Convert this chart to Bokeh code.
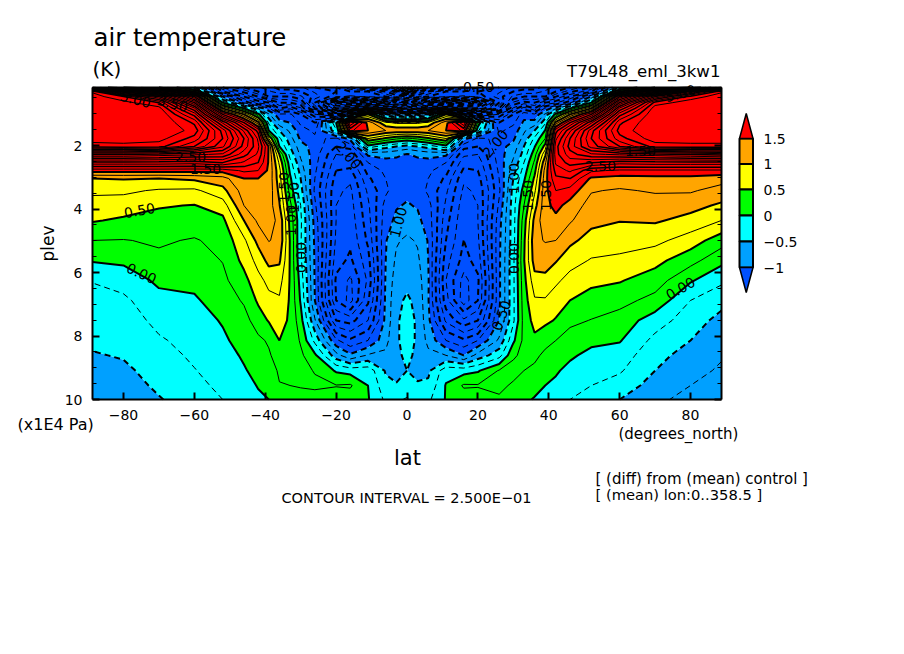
import numpy as np
from bokeh.embed import file_html
from bokeh.resources import INLINE
from bokeh.plotting import figure
from bokeh.models import Label, PolyAnnotation, LinearAxis, Range1d, FixedTicker

lat = [-88.75,-80,-70,-60,-52,-46,-42,-39,-36,-33,-30,-26,-20,-16,-11,-6,-3,0,3,6,11,16,20,26,30,33,36,39,42,46,52,60,70,80,88.75]
plev = [0.17,0.30,0.46,0.65,0.83,1.02,1.28,1.53,1.78,2.03,2.28,2.54,2.79,3.04,3.42,3.89,4.36,4.99,5.62,6.25,6.88,7.51,8.14,8.61,9.09,9.56,10.0]

t_s88 = [2.0,5.2,5.4,5.5,5.5,5.5,5.5,5.5,5.4,5.1,3.5,2.4,1.6,1.0,0.8,0.65,0.52,0.25,0.02,-0.24,-0.32,-0.38,-0.45,-0.52,-0.6,-0.66,-0.72]
t_s80 = [1.0,3.2,5.0,5.35,5.5,5.5,5.5,5.5,5.4,5.15,3.5,2.4,1.6,1.02,0.8,0.62,0.46,0.24,0.05,-0.15,-0.3,-0.38,-0.44,-0.48,-0.55,-0.62,-0.68]
t_s70 = [0.5,2.0,4.0,5.0,5.35,5.5,5.5,5.5,5.35,5.1,3.4,2.4,1.6,1.0,0.72,0.52,0.42,0.28,0.2,0.05,-0.08,-0.18,-0.28,-0.34,-0.4,-0.45,-0.52]
t_s60 = [-0.5,0.5,2.0,3.0,3.8,4.4,4.95,5.15,4.9,4.5,3.3,2.35,1.6,1.05,0.7,0.49,0.38,0.23,0.14,0.06,-0.03,-0.1,-0.16,-0.21,-0.26,-0.31,-0.36]
t_s52 = [-2.5,-2.0,-1.0,0.0,1.0,2.0,3.2,3.9,4.0,3.8,3.2,2.5,1.6,1.15,0.92,0.62,0.44,0.32,0.26,0.19,0.11,0.02,-0.04,-0.09,-0.15,-0.2,-0.25]
t_s46 = [-3.0,-2.6,-2.0,-1.3,0.0,1.0,2.0,2.7,3.0,2.9,2.6,2.2,1.8,1.5,1.37,1.25,1.0,0.7,0.57,0.42,0.28,0.16,0.09,0.03,-0.02,-0.06,-0.1]
t_s42 = [-3.2,-3.0,-2.5,-1.8,-0.8,0.1,1.1,1.9,2.2,2.3,2.2,2.0,1.75,1.5,1.45,1.38,1.3,1.08,0.84,0.67,0.54,0.37,0.2,0.13,0.07,0.01,-0.03]
t_s39 = [-3.4,-3.2,-3.0,-2.0,-1.2,-0.7,-0.3,0.0,0.75,1.48,1.47,1.47,1.45,1.43,1.42,1.38,1.33,1.26,1.08,0.82,0.68,0.52,0.28,0.22,0.15,0.07,0.0]
t_s36 = [-3.6,-3.4,-3.0,-2.5,-2.0,-1.2,-0.9,-0.5,-0.2,0.0,0.5,0.7,0.82,0.85,0.93,1.02,1.2,1.2,1.04,0.84,0.72,0.6,0.5,0.36,0.28,0.24,0.18]
t_s33 = [-3.6,-3.4,-3.0,-2.5,-1.8,-1.2,-1.0,-0.8,-0.65,-0.5,-0.35,-0.15,-0.05,0.05,0.15,0.32,0.42,0.48,0.48,0.48,0.47,0.46,0.44,0.4,0.33,0.25,0.2]
t_s30 = [-3.7,-3.5,-3.2,-2.7,-2.2,-1.5,-1.3,-1.15,-1.05,-0.9,-0.8,-0.7,-0.6,-0.5,-0.4,-0.25,-0.2,-0.22,-0.2,-0.1,-0.03,0.1,0.22,0.3,0.3,0.26,0.2]
t_s26 = [-4.0,-3.8,-3.6,-4.0,-3.5,-2.2,-1.5,-1.3,-1.2,-1.1,-1.12,-1.15,-1.2,-1.25,-1.3,-1.2,-1.1,-1.05,-1.03,-1.02,-1.0,-0.72,-0.32,0.05,0.24,0.28,0.18]
t_s20 = [-4.0,-4.0,-4.2,-6.0,-5.0,-3.0,0.0,-0.3,-1.3,-1.5,-1.75,-1.9,-2.0,-2.1,-2.2,-2.25,-2.25,-2.3,-2.4,-2.55,-2.5,-2.0,-1.2,-0.65,-0.03,0.26,0.15]
t_s16 = [-3.5,-4.0,-4.3,-6.5,-5.0,-1.5,2.5,1.8,-0.9,-1.4,-1.7,-1.9,-2.05,-2.2,-2.3,-2.35,-2.4,-2.45,-2.55,-2.8,-2.85,-2.1,-1.45,-0.95,-0.1,0.28,0.12]
t_s11 = [-3.0,-4.0,-4.2,-6.5,-4.5,0.5,1.4,1.5,0.75,-0.1,-0.95,-1.25,-1.4,-1.55,-1.7,-1.8,-1.85,-1.95,-2.1,-2.2,-2.05,-1.75,-1.25,-0.72,-0.1,0.0,0.02]
t_s06 = [-2.5,-3.5,-4.0,-6.0,-4.5,-0.8,0.8,1.25,0.45,-0.4,-0.9,-1.1,-1.2,-1.25,-1.3,-1.15,-1.1,-1.02,-1.0,-0.97,-0.95,-0.93,-0.83,-0.7,-0.53,-0.42,-0.3]
t_s03 = [-1.5,-3.0,-3.7,-5.5,-4.0,-1.0,0.7,1.2,0.3,-0.5,-0.95,-1.08,-1.15,-1.18,-1.12,-1.02,-0.95,-0.78,-0.7,-0.62,-0.55,-0.53,-0.53,-0.55,-0.58,-0.48,-0.3]
t_eq0 = [0.5,-1.5,-3.5,-5.0,-3.5,-1.0,0.7,1.2,0.2,-0.6,-1.02,-1.05,-1.1,-1.1,-1.05,-0.98,-0.88,-0.7,-0.62,-0.55,-0.47,-0.42,-0.42,-0.45,-0.5,-0.42,-0.22]
t_n03 = [-1.5,-3.0,-3.7,-5.5,-4.0,-1.0,0.7,1.2,0.3,-0.5,-0.95,-1.08,-1.15,-1.18,-1.12,-1.02,-0.95,-0.78,-0.7,-0.62,-0.55,-0.53,-0.53,-0.55,-0.55,-0.48,-0.3]
t_n06 = [-2.5,-3.5,-4.0,-6.0,-4.5,-0.8,0.8,1.25,0.45,-0.4,-0.9,-1.1,-1.2,-1.25,-1.3,-1.15,-1.1,-1.02,-1.0,-0.97,-0.98,-0.93,-0.83,-0.68,-0.55,-0.45,-0.3]
t_n11 = [-3.0,-4.0,-4.2,-6.5,-4.5,0.5,1.4,1.5,0.75,-0.1,-0.95,-1.25,-1.4,-1.55,-1.7,-1.8,-1.9,-2.0,-2.15,-2.25,-2.15,-1.8,-1.25,-0.75,-0.1,0.02,0.02]
t_n16 = [-3.5,-4.0,-4.3,-6.5,-5.0,-1.5,2.5,1.8,-0.9,-1.4,-1.7,-1.9,-2.05,-2.2,-2.3,-2.4,-2.45,-2.5,-2.6,-2.85,-2.9,-2.2,-1.45,-1.0,-0.1,0.28,0.12]
t_n20 = [-4.0,-4.0,-4.2,-6.0,-5.0,-3.0,0.2,-0.2,-1.3,-1.5,-1.75,-1.9,-2.0,-2.1,-2.2,-2.25,-2.25,-2.3,-2.4,-2.55,-2.5,-2.0,-1.25,-0.65,-0.03,0.27,0.12]
t_n26 = [-4.0,-3.8,-3.6,-4.0,-3.5,-2.2,-1.5,-1.3,-1.2,-1.1,-1.12,-1.15,-1.2,-1.25,-1.3,-1.2,-1.1,-1.06,-1.05,-1.05,-1.05,-1.0,-0.7,-0.35,0.27,0.3,0.22]
t_n30 = [-3.7,-3.5,-3.2,-2.7,-2.2,-1.5,-1.3,-1.15,-1.05,-0.9,-0.8,-0.7,-0.6,-0.5,-0.4,-0.35,-0.35,-0.35,-0.3,-0.3,-0.3,-0.3,-0.05,0.22,0.32,0.22,0.1]
t_n33 = [-3.6,-3.4,-3.0,-2.4,-1.6,-1.1,-0.95,-0.8,-0.65,-0.5,-0.4,-0.25,-0.15,-0.05,0.1,0.25,0.38,0.45,0.48,0.42,0.38,0.35,0.32,0.3,0.25,0.15,0.05]
t_n36 = [-3.6,-3.4,-3.0,-2.5,-2.0,-1.2,-0.9,-0.5,-0.2,-0.02,0.15,0.3,0.42,0.55,0.7,0.9,1.08,1.18,1.12,0.9,0.72,0.58,0.45,0.3,0.2,0.08,-0.02]
t_n39 = [-3.4,-3.2,-3.0,-2.0,-1.2,-0.7,-0.3,0.02,0.25,0.6,0.95,1.2,1.35,1.4,1.42,1.42,1.42,1.27,1.08,0.95,0.72,0.56,0.32,0.2,0.1,0.0,-0.1]
t_n42 = [-3.2,-3.0,-2.5,-1.8,-0.8,0.1,1.1,1.9,2.2,2.4,2.4,2.3,2.1,1.95,1.75,1.58,1.43,1.25,1.02,0.8,0.62,0.48,0.25,0.16,0.03,-0.05,-0.17]
t_n46 = [-3.0,-2.6,-2.0,-1.3,0.0,1.0,2.0,2.7,3.0,3.1,2.9,2.6,2.3,2.0,1.65,1.4,1.28,1.06,0.85,0.66,0.5,0.31,0.14,0.04,-0.07,-0.15,-0.25]
t_n52 = [-2.5,-2.0,-1.0,0.0,1.0,2.0,3.2,3.9,4.0,3.85,3.2,2.5,1.8,1.45,1.27,1.15,1.07,0.9,0.73,0.56,0.4,0.24,0.06,-0.07,-0.17,-0.25,-0.32]
t_n60 = [-0.5,0.5,2.0,3.0,3.8,4.4,4.95,5.1,4.9,4.5,3.3,2.35,1.7,1.4,1.22,1.1,1.01,0.85,0.7,0.52,0.33,0.15,0.02,-0.12,-0.22,-0.36,-0.5]
t_n70 = [0.5,2.0,4.0,5.1,5.4,5.5,5.5,5.5,5.4,5.1,3.4,2.4,1.7,1.42,1.28,1.12,1.03,0.82,0.58,0.37,0.17,-0.13,-0.32,-0.42,-0.5,-0.6,-0.68]
t_n80 = [1.0,4.0,5.1,5.4,5.5,5.5,5.5,5.5,5.4,5.15,3.5,2.4,1.7,1.42,1.28,1.08,0.92,0.63,0.34,0.03,-0.25,-0.38,-0.5,-0.6,-0.68,-0.75,-0.85]
t_n88 = [2.5,5.2,5.4,5.5,5.5,5.5,5.5,5.5,5.4,5.15,3.6,2.4,1.7,1.35,1.15,0.96,0.75,0.36,0.07,-0.2,-0.42,-0.58,-0.66,-0.73,-0.78,-0.85,-0.9]

columns = [t_s88,t_s80,t_s70,t_s60,t_s52,t_s46,t_s42,t_s39,t_s36,t_s33,t_s30,t_s26,t_s20,t_s16,t_s11,t_s06,t_s03,t_eq0,t_n03,
           t_n06,t_n11,t_n16,t_n20,t_n26,t_n30,t_n33,t_n36,t_n39,t_n42,t_n46,t_n52,t_n60,t_n70,t_n80,t_n88]

fill_levels = [-10,-1,-0.5,0,0.5,1,1.5,10]
fill_colors = ["#0050ff","#00a0ff","#00ffff","#00ff00","#ffff00","#ffa500","#ff0000"]
thick_low = [0,0.5,1,1.5]
thick_high = [2,2.5,3,3.5,4,4.5,5]
thin_pos = [0.25,0.75,1.25,1.75,2.25,2.75,3.25,3.75,4.25,4.75,5.25]
thick_neg = [-6.5,-6,-5.5,-5,-4.5,-4,-3.5,-3,-2.5,-2,-1.5,-1,-0.5]
thin_neg = [-6.25,-5.75,-5.25,-4.75,-4.25,-3.75,-3.25,-2.75,-2.25,-1.75,-1.25,-0.75,-0.25]

lat_ticks = [-80,-60,-40,-20,0,20,40,60,80]
lat_tick_labels = ["\u221280","\u221260","\u221240","\u221220","0","20","40","60","80"]
plev_ticks = [2,4,6,8,10]
plev_minor = [0.5,1,1.5,2.5,3,3.5,4.5,5,5.5,6.5,7,7.5,8.5,9,9.5]

# contour labels: page-pixel centre, text, angle in degrees
clabel_text = ["5.00","3.50","5.00","0.50","0.00","1.50","2.50","2.00","1.50","1.50","1.00","0.00","1.00","0.00","1.00","1.50","1.50","0.50","0.00","2.00","2.50","1.50","0.50","1.00"]
clabel_x =    [135,172,680,139,141,205,190,348,283,293,290,300,398,513,513,527,545,501,680,495,600,640,478,406]
clabel_y =    [99,103,93,210,273,168,156,155,187,197,220,257,222,258,178,195,195,315,288,143,165,150,86,117]
clabel_a =    [-15,-15,15,10,-25,0,0,-50,90,90,90,90,75,90,90,90,90,70,30,50,0,0,0,0]

cbar_labels = ["1.5","1","0.5","0","\u22120.5","\u22121"]
cbar_box_colors = ["#ffa500","#ffff00","#00ff00","#00ffff","#00a0ff"]

PAGE_W, PAGE_H = 896, 646


def px2lat(x):
    return (x - 406.5) / 3.544


def py2p(y):
    return 2 + (y - 145) / 31.75


p = figure(output_backend="svg", toolbar_location=None,
           frame_width=PAGE_W, frame_height=PAGE_H,
           x_range=Range1d(0, PAGE_W), y_range=Range1d(PAGE_H, 0),
           x_axis_location=None, y_axis_location=None, min_border=0,
           background_fill_color="white", border_fill_color="white", outline_line_color=None)
p.grid.visible = False
p.xgrid.visible = False
p.ygrid.visible = False
p.extra_x_ranges = {"lat": Range1d(px2lat(0), px2lat(PAGE_W))}
p.extra_y_ranges = {"plev": Range1d(py2p(PAGE_H), py2p(0))}

z = np.array(columns).T


def contour(levels, **kw):
    c = p.contour(lat, plev, z, levels, **kw)
    for r in (c, c.fill_renderer, c.line_renderer):
        r.x_range_name = "lat"
        r.y_range_name = "plev"


contour(fill_levels, fill_color=fill_colors, line_color=None)
contour(thin_pos, line_color="black", line_width=1)
contour(thick_high, line_color="black", line_width=1.5)
contour(thick_low, line_color="black", line_width=2)
contour(thin_neg, line_color="black", line_width=1, line_dash="6 4")
contour(thick_neg, line_color="black", line_width=2, line_dash="6 4")

lat_lo, lat_hi = px2lat(92), px2lat(721)
p_top, p_bot = py2p(87), 10


def axis(side, ticks, minor, fixed, bounds, overrides=None, labels=True):
    ax = LinearAxis(x_range_name="lat", y_range_name="plev",
                    ticker=FixedTicker(ticks=ticks, minor_ticks=minor),
                    fixed_location=fixed, bounds=bounds,
                    axis_line_width=2, major_tick_in=7, major_tick_out=0,
                    minor_tick_in=4, minor_tick_out=0, major_tick_line_width=2,
                    major_label_text_font="DejaVu Sans", major_label_text_font_size="14px",
                    major_label_text_color="black", major_label_standoff=10)
    if overrides:
        ax.major_label_overrides = overrides
    if not labels:
        ax.major_label_overrides = {t: "" for t in ticks}
    p.add_layout(ax, side)


axis("below", lat_ticks, [], p_bot, (lat_lo, lat_hi), dict(zip(lat_ticks, lat_tick_labels)))
axis("above", lat_ticks, [], p_top, (lat_lo, lat_hi), labels=False)
axis("left", plev_ticks, plev_minor, lat_lo, (p_top, p_bot))
axis("right", plev_ticks, plev_minor, lat_hi, (p_top, p_bot), labels=False)


def put(text, x, y, size="14px", align="left", baseline="middle", angle=0):
    p.add_layout(Label(x=x, y=y, text=text, text_font="DejaVu Sans", text_font_size=size,
                       text_align=align, text_baseline=baseline, angle=angle, angle_units="deg",
                       text_color="black"))


for s, x, y, a in zip(clabel_text, clabel_x, clabel_y, clabel_a):
    put(s, x, y, "14px", "center", "middle", a)

put("air temperature", 93, 37, "24.4px")
put("(K)", 92, 68, "20px")
put("T79L48_eml_3kw1", 720, 71, "16.6px", "right")
put("(x1E4 Pa)", 17, 424, "16px")
put("(degrees_north)", 618, 433, "15px")
put("lat", 407, 457, "21px", "center")
put("plev", 47, 243, "17px", "center", "middle", 90)
put("CONTOUR INTERVAL = 2.500E\u221201", 281, 497, "14.5px")
put("[ (diff) from (mean) control ]", 595, 478, "15px")
put("[ (mean) lon:0..358.5 ]", 595, 494, "14.7px")

# colour bar
cx0, cx1 = 739, 752.5
edge_y = [138, 163.5, 189, 215, 241, 267]
for i, c in enumerate(cbar_box_colors):
    p.add_layout(PolyAnnotation(xs=[cx0, cx1, cx1, cx0], ys=[edge_y[i], edge_y[i], edge_y[i+1], edge_y[i+1]],
                                fill_color=c, fill_alpha=1, line_color="black", line_width=2, line_alpha=1))
p.add_layout(PolyAnnotation(xs=[cx0, (cx0+cx1)/2, cx1], ys=[138, 113, 138],
                            fill_color="#ff0000", fill_alpha=1, line_color="black", line_width=1.5, line_alpha=1))
p.add_layout(PolyAnnotation(xs=[cx0, (cx0+cx1)/2, cx1], ys=[267, 292, 267],
                            fill_color="#0050ff", fill_alpha=1, line_color="black", line_width=1.5, line_alpha=1))
for s, y in zip(cbar_labels, edge_y):
    put(s, 763, y, "14px")

open("out.html", "w").write(file_html(p, INLINE))
